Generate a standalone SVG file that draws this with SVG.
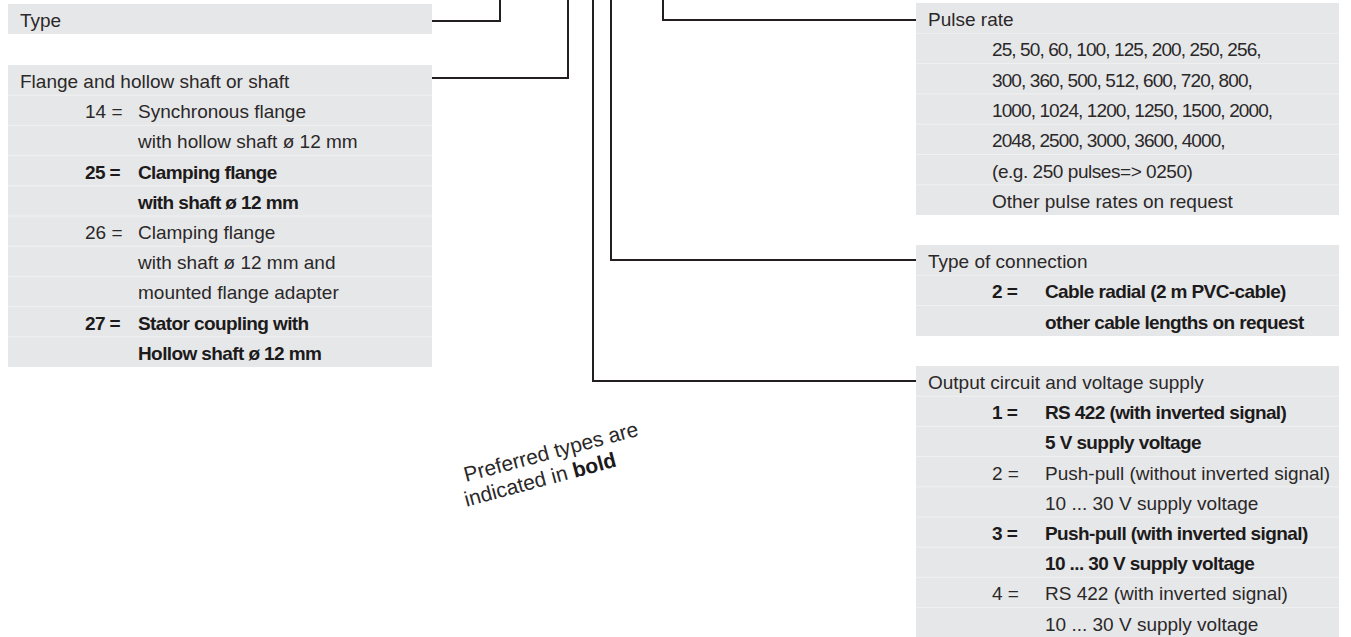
<svg xmlns="http://www.w3.org/2000/svg" width="1351" height="637" viewBox="0 0 1351 637">
<style>
.box{fill:#e6e7e8}
.sep{stroke:#f1f1f2;stroke-width:1}
text{font-family:"Liberation Sans",Arial,sans-serif;font-size:19px;fill:#2b2829}
.b{font-weight:bold;fill:#1c1a1b;letter-spacing:-0.6px}
.num{letter-spacing:-0.9px}
.eg{letter-spacing:-0.45px}
.conn{fill:none;stroke:#231f20;stroke-width:2}
.note{font-size:21px}
</style>
<rect width="1351" height="637" fill="#ffffff"/>

<g id="connectors">
<path class="conn" d="M432 21H500V0"/>
<path class="conn" d="M432 78H568V0"/>
<path class="conn" d="M916 20H663V0"/>
<path class="conn" d="M916 260H611V0"/>
<path class="conn" d="M916 381H593V0"/>
</g>

<g id="type">
<rect class="box" x="8" y="4" width="424" height="30"/>
<text x="20" y="27">Type</text>
</g>

<g id="flange">
<rect class="box" x="8" y="65" width="424" height="302"/>
<g class="sep">
<line x1="8" x2="432" y1="95.2" y2="95.2"/>
<line x1="8" x2="432" y1="125.4" y2="125.4"/>
<line x1="8" x2="432" y1="155.6" y2="155.6"/>
<line x1="8" x2="432" y1="185.8" y2="185.8"/>
<line x1="8" x2="432" y1="216" y2="216"/>
<line x1="8" x2="432" y1="246.2" y2="246.2"/>
<line x1="8" x2="432" y1="276.4" y2="276.4"/>
<line x1="8" x2="432" y1="306.6" y2="306.6"/>
<line x1="8" x2="432" y1="336.8" y2="336.8"/>
</g>
<text x="20" y="88">Flange and hollow shaft or shaft</text>
<text x="85" y="118.2">14 =</text>
<text x="138" y="118.2">Synchronous flange</text>
<text x="138" y="148.4">with hollow shaft ø 12 mm</text>
<text class="b" x="85" y="178.6">25 =</text>
<text class="b" x="138" y="178.6">Clamping flange</text>
<text class="b" x="138" y="208.8">with shaft ø 12 mm</text>
<text x="85" y="239">26 =</text>
<text x="138" y="239">Clamping flange</text>
<text x="138" y="269.2">with shaft ø 12 mm and</text>
<text x="138" y="299.4">mounted flange adapter</text>
<text class="b" x="85" y="329.6">27 =</text>
<text class="b" x="138" y="329.6">Stator coupling with</text>
<text class="b" x="138" y="359.8">Hollow shaft ø 12 mm</text>
</g>

<g id="pulse-rate">
<rect class="box" x="916" y="3" width="423" height="212"/>
<g class="sep">
<line x1="916" x2="1339" y1="33.3" y2="33.3"/>
<line x1="916" x2="1339" y1="63.6" y2="63.6"/>
<line x1="916" x2="1339" y1="93.9" y2="93.9"/>
<line x1="916" x2="1339" y1="124.2" y2="124.2"/>
<line x1="916" x2="1339" y1="154.5" y2="154.5"/>
<line x1="916" x2="1339" y1="184.8" y2="184.8"/>
</g>
<text x="928" y="26">Pulse rate</text>
<text class="num" x="992" y="56.3">25, 50, 60, 100, 125, 200, 250, 256,</text>
<text class="num" x="992" y="86.6">300, 360, 500, 512, 600, 720, 800,</text>
<text class="num" x="992" y="116.9">1000, 1024, 1200, 1250, 1500, 2000,</text>
<text class="num" x="992" y="147.2">2048, 2500, 3000, 3600, 4000,</text>
<text class="eg" x="992" y="177.5">(e.g. 250 pulses=&gt; 0250)</text>
<text x="992" y="207.8">Other pulse rates on request</text>
</g>

<g id="connection">
<rect class="box" x="916" y="245" width="423" height="91"/>
<g class="sep">
<line x1="916" x2="1339" y1="275.3" y2="275.3"/>
<line x1="916" x2="1339" y1="305.6" y2="305.6"/>
</g>
<text x="928" y="268">Type of connection</text>
<text class="b" x="992" y="298.3">2 =</text>
<text class="b" x="1045" y="298.3">Cable radial (2 m PVC-cable)</text>
<text class="b" x="1045" y="328.6">other cable lengths on request</text>
</g>

<g id="output">
<rect class="box" x="916" y="366" width="423" height="272"/>
<g class="sep">
<line x1="916" x2="1339" y1="396.2" y2="396.2"/>
<line x1="916" x2="1339" y1="426.4" y2="426.4"/>
<line x1="916" x2="1339" y1="456.6" y2="456.6"/>
<line x1="916" x2="1339" y1="486.8" y2="486.8"/>
<line x1="916" x2="1339" y1="517" y2="517"/>
<line x1="916" x2="1339" y1="547.2" y2="547.2"/>
<line x1="916" x2="1339" y1="577.4" y2="577.4"/>
<line x1="916" x2="1339" y1="607.6" y2="607.6"/>
</g>
<text x="928" y="389">Output circuit and voltage supply</text>
<text class="b" x="992" y="419.2">1 =</text>
<text class="b" x="1045" y="419.2">RS 422 (with inverted signal)</text>
<text class="b" x="1045" y="449.4">5 V supply voltage</text>
<text x="992" y="479.6">2 =</text>
<text x="1045" y="479.6">Push-pull (without inverted signal)</text>
<text x="1045" y="509.8">10 ... 30 V supply voltage</text>
<text class="b" x="992" y="540">3 =</text>
<text class="b" x="1045" y="540">Push-pull (with inverted signal)</text>
<text class="b" x="1045" y="570.2">10 ... 30 V supply voltage</text>
<text x="992" y="600.4">4 =</text>
<text x="1045" y="600.4">RS 422 (with inverted signal)</text>
<text x="1045" y="630.6">10 ... 30 V supply voltage</text>
</g>

<g id="note" transform="translate(466,482) rotate(-15)">
<text class="note" x="0" y="0">Preferred types are</text>
<text class="note" x="-6" y="24">indicated in <tspan font-weight="bold" fill="#1c1a1b">bold</tspan></text>
</g>
</svg>
